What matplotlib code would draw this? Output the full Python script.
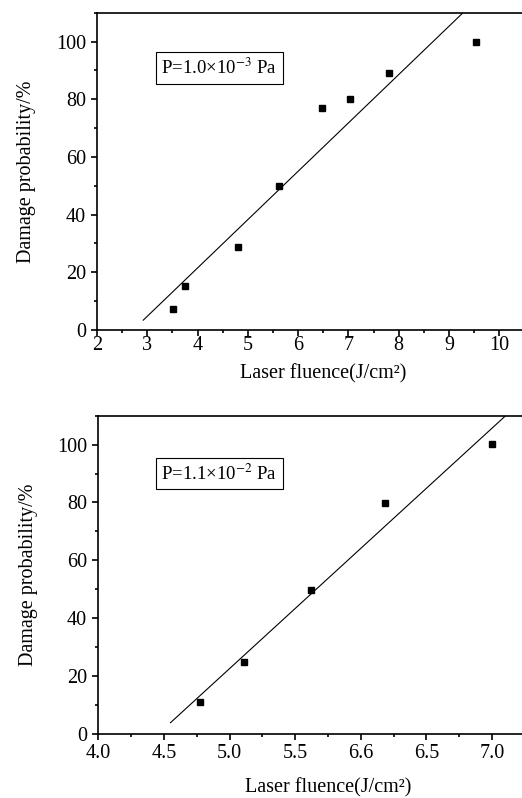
import matplotlib
matplotlib.use('Agg')
import matplotlib.pyplot as plt
from matplotlib.ticker import MultipleLocator, FixedLocator

plt.rcParams['font.family'] = ['Liberation Serif', 'DejaVu Serif']
plt.rcParams['mathtext.fontset'] = 'stix'

# Data -------------------------------------------------------------------

# top panel, P = 1.0e-3 Pa
fluence_1 = [3.52, 3.76, 4.81, 5.61, 6.47, 7.04, 7.80, 9.54]
damage_1 = [7.3, 15.3, 28.6, 50.0, 77.0, 80.0, 89.0, 100.0]
fit_x_1 = [2.92, 9.31]
fit_y_1 = [3.4, 110.5]

# bottom panel, P = 1.1e-2 Pa
fluence_2 = [4.775, 5.11, 5.62, 6.186, 7.00]
damage_2 = [11.1, 24.9, 49.9, 79.9, 100.1]
fit_x_2 = [4.55, 7.14]
fit_y_2 = [3.9, 111.5]

xticks_2 = [4.0, 4.5, 5.0, 5.5, 6.0, 6.5, 7.0]
xticklabels_2 = ['4.0', '4.5', '5.0', '5.5', '6.6', '6.5', '7.0']

# Plot -------------------------------------------------------------------

fig = plt.figure(figsize=(5.22, 7.98), dpi=100)
ax1 = fig.add_axes([0.1858, 0.5865, 0.867, 0.3976])
ax2 = fig.add_axes([0.1883, 0.0802, 0.880, 0.3989])


def style_axes(ax):
    ax.spines['right'].set_visible(False)
    for s in ['left', 'bottom', 'top']:
        ax.spines[s].set_linewidth(1.2)
    ax.tick_params(which='major', direction='out', length=4, width=1.2,
                   labelsize=14.5)
    ax.tick_params(axis='y', pad=4)
    ax.tick_params(which='minor', direction='out', length=2.5, width=1.2)
    ax.set_ylim(0, 110)
    ax.yaxis.set_major_locator(FixedLocator([0, 20, 40, 60, 80, 100]))
    ax.yaxis.set_minor_locator(MultipleLocator(10))
    ax.set_ylabel('Damage probability/%', fontsize=14.5, labelpad=14)


style_axes(ax1)
ax1.plot(fluence_1, damage_1, 's', color='black', markersize=4.5)
ax1.plot(fit_x_1, fit_y_1, color='black', linewidth=0.8)
ax1.set_xlim(2, 11)
ax1.xaxis.set_major_locator(FixedLocator([2, 3, 4, 5, 6, 7, 8, 9, 10]))
ax1.xaxis.set_minor_locator(MultipleLocator(0.5))
ax1.tick_params(axis='x', pad=0)
ax1.set_xlabel('Laser fluence(J/cm²)', fontsize=14.5, labelpad=7)
ax1.text(4.43, 90.8, r'P=1.0×10$^{-3}$ Pa', fontsize=13.5, ha='center', va='center',
         bbox=dict(boxstyle='square,pad=0.3', facecolor='white', edgecolor='black', linewidth=0.8))

style_axes(ax2)
ax2.plot(fluence_2, damage_2, 's', color='black', markersize=4.5)
ax2.plot(fit_x_2, fit_y_2, color='black', linewidth=0.8)
ax2.set_xlim(4, 7.5)
ax2.set_xticks(xticks_2)
ax2.set_xticklabels(xticklabels_2)
ax2.xaxis.set_minor_locator(MultipleLocator(0.25))
ax2.tick_params(axis='x', pad=3)
ax2.set_xlabel('Laser fluence(J/cm²)', fontsize=14.5, labelpad=11)
ax2.text(4.92, 90.0, r'P=1.1×10$^{-2}$ Pa', fontsize=13.5, ha='center', va='center',
         bbox=dict(boxstyle='square,pad=0.3', facecolor='white', edgecolor='black', linewidth=0.8))

fig.savefig('out.png', dpi=100)
